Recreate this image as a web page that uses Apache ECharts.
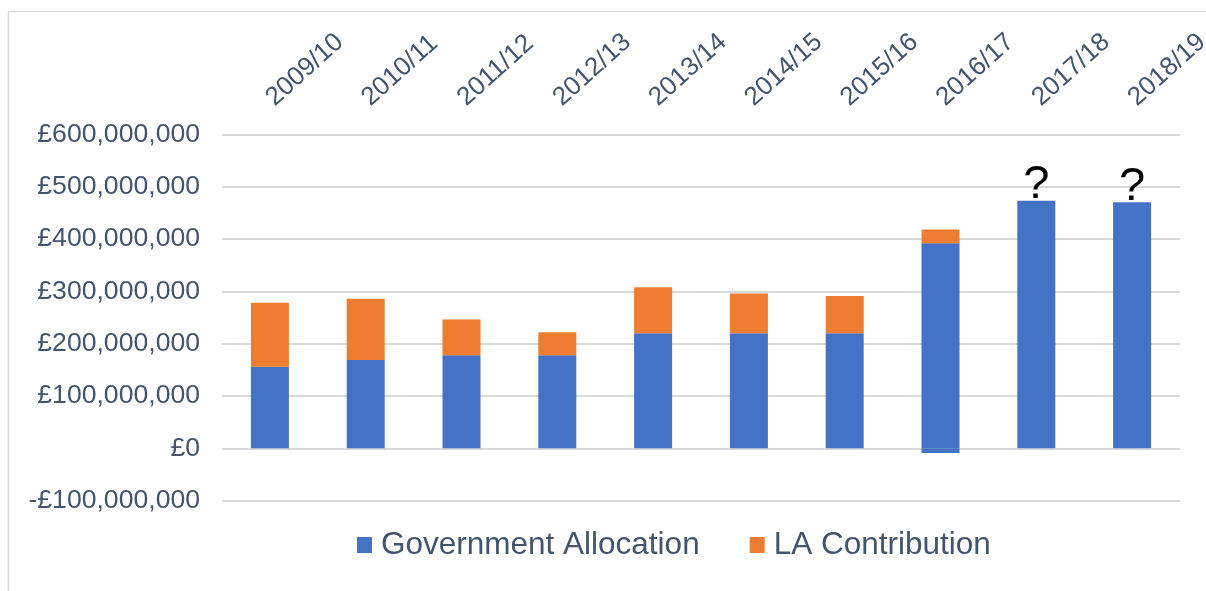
<!DOCTYPE html>
<html>
<head>
<meta charset="utf-8">
<script src="https://cdn.jsdelivr.net/npm/echarts@6/dist/echarts.min.js"></script>
<style>
  html, body { margin: 0; padding: 0; background: #fff; }
  #main { width: 1206px; height: 591px; }
</style>
</head>
<body>
<div id="main"></div>
<script>
// 数据
const years = ['2009/10', '2010/11', '2011/12', '2012/13', '2013/14', '2014/15', '2015/16', '2016/17', '2017/18', '2018/19'];
const govAllocation = [156e6, 169e6, 178e6, 178e6, 220e6, 220e6, 220e6, 392e6, 473e6, 470e6];
const laContribution = [122e6, 117e6, 68e6, 44e6, 88e6, 76e6, 71e6, 26e6, null, null];
// 2016/17 below-zero part of the allocation
const govNegative = [null, null, null, null, null, null, null, -9e6, null, null];
const unknownYears = ['2017/18', '2018/19'];

const textColor = '#44546A';
const font = "'Liberation Sans', Arial, sans-serif";

const chart = echarts.init(document.getElementById('main'));

function money(v) {
  const s = Math.abs(v).toString().replace(/\B(?=(\d{3})+(?!\d))/g, ',');
  return (v < 0 ? '-£' : '£') + s;
}

const option = {
  animation: false,
  textStyle: { fontFamily: font },
  graphic: [{
    type: 'rect',
    shape: { x: 8.5, y: 11.5, width: 1300, height: 700 },
    style: { fill: 'none', stroke: '#d9d9d9', lineWidth: 1.5 },
    silent: true
  }],
  legend: {
    top: 524,
    left: 352,
    itemWidth: 15,
    itemHeight: 16,
    itemGap: 50,
    icon: 'rect',
    data: ['Government Allocation', 'LA Contribution'],
    textStyle: { color: textColor, fontSize: 31.5, fontFamily: font, padding: [0, 0, 0, 4] }
  },
  grid: { left: 222, right: 26, top: 134.3, bottom: 90.3, outerBoundsMode: 'none' },
  xAxis: {
    type: 'category',
    position: 'top',
    data: years,
    axisLine: { show: false },
    axisTick: { show: false },
    axisLabel: { rotate: 42, color: textColor, fontSize: 26, fontFamily: font, margin: 33, interval: 0 }
  },
  yAxis: {
    type: 'value',
    min: -100e6,
    max: 600e6,
    interval: 100e6,
    axisLine: { show: false },
    axisTick: { show: false },
    splitLine: { lineStyle: { color: '#d9d9d9', width: 2 } },
    axisLabel: { color: textColor, fontSize: 26.6, fontFamily: font, margin: 22, formatter: money }
  },
  series: [
    {
      name: 'Government Allocation',
      type: 'bar',
      stack: 'total',
      barWidth: 38,
      itemStyle: { color: '#4472C4' },
      data: govAllocation.map((v, i) => unknownYears.includes(years[i])
        ? { value: v, label: { show: true, position: 'top', distance: -8, formatter: '?', color: '#000', fontSize: 47, fontFamily: font } }
        : v)
    },
    {
      name: 'LA Contribution',
      type: 'bar',
      stack: 'total',
      barWidth: 38,
      itemStyle: { color: '#ED7D31' },
      data: laContribution
    },
    {
      name: 'Government Allocation',
      type: 'bar',
      stack: 'total',
      barWidth: 38,
      itemStyle: { color: '#4472C4' },
      data: govNegative
    }
  ]
};

chart.setOption(option);
</script>
</body>
</html>
